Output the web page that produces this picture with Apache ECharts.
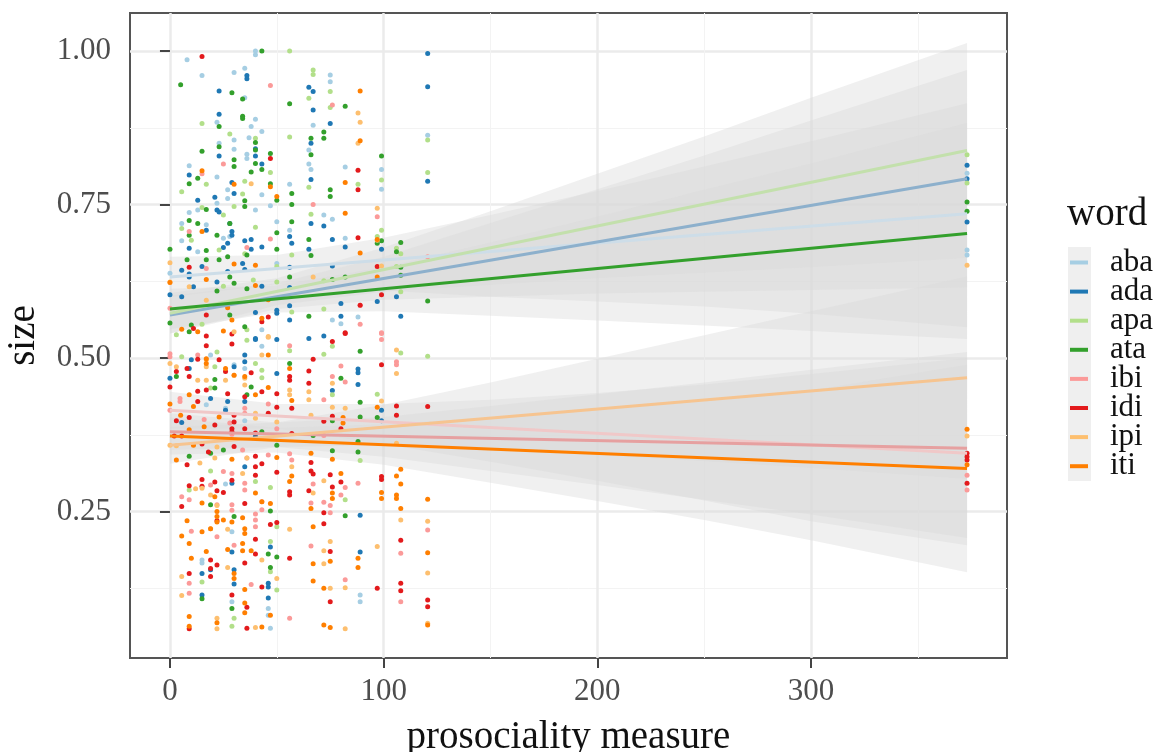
<!DOCTYPE html>
<html><head><meta charset="utf-8">
<style>html,body{margin:0;padding:0;background:#fff}#main{width:1159px;height:752px;filter:blur(0.5px)}</style>
<script src="https://cdn.jsdelivr.net/npm/echarts@6/dist/echarts.min.js"></script>
</head><body><div id="main"></div>
<script>
const words = ['aba','ada','apa','ata','ibi','idi','ipi','iti'];
const pointColors = ['#a6cee3','#1f78b4','#b2df8a','#33a02c','#fb9a99','#e31a1c','#fdbf6f','#ff7f00'];
const lineColors = ['#cddde8','#8db0cc','#c3e0ac','#33a02c','#f0c8c8','#e6a0a0','#f6c490','#ff7f00'];
const xTicks = [0,100,200,300];
const xMinor = [50,150,250,350];
const yTicks = [0.25,0.5,0.75,1];
const yMinor = [0.125,0.375,0.625,0.875];

const aba = [[8,.986],[15,.96],[40,1],[40,.994],[30,.965],[35,.972],[35,.924],[22,.884],[40,.889],[38,.877],[43,.869],[37,.859],[30,.855],[30,.84],[23,.85],[36,.832],[36,.825],[9,.813],[22,.795],[27,.774],[27,.76],[22,.752],[9,.737],[13,.741],[40,.741],[47,.748],[43,.766],[56,.783],[65,.839],[65,.816],[66,.807],[67,.879],[75,.961],[75,.95],[82,.811],[99,.807],[99,.775],[72,.733],[76,.726],[50,.722],[56,.708],[5.5,.719],[5.5,.691],[17,.717],[28,.698],[25,.695],[13,.673],[50,.654],[82,.695],[120.6,.863],[373,.801],[373,.676],[373,.668],[0,.638],[76,.562],[80,.556],[88,.567],[43,.546],[43,.519],[19,.505],[17,.424],[26,.418],[30,.489],[35,.483],[35,.398],[26,.295],[29,.217],[15,.171],[15,.166],[89,.114],[89,.103],[46,.092],[46,.081],[47,.06],[29,.103]];
const ada = [[120.6,.996],[120.6,.942],[36,.96],[36,.955],[23,.935],[23,.897],[23,.829],[65,.941],[67,.934],[67,.904],[75,.882],[66,.85],[40,.829],[40,.841],[43,.816],[9,.798],[29,.786],[30,.768],[66,.791],[21,.762],[13,.757],[22,.741],[23,.738],[28,.719],[29,.706],[29,.7],[17,.708],[9,.679],[35,.691],[38,.693],[25,.68],[27,.687],[43,.681],[38,.677],[56,.698],[57,.687],[65,.677],[72,.715],[66,.719],[76,.693],[82,.681],[99,.677],[120.6,.788],[373,.814],[373,.792],[373,.7215],[5.5,.643],[9,.632],[9,.637],[0,.603],[5.5,.6],[15,.649],[11,.616],[22,.624],[27,.641],[35,.644],[34,.654],[56,.648],[56,.615],[76,.65],[43,.617],[106,.6],[108,.568],[80,.589],[80,.568],[56,.585],[56,.562],[50,.578],[50,.573],[40,.574],[40,.532],[65,.532],[72,.536],[97,.592],[50,.53],[40,.53],[10,.497],[35,.505],[35,.494],[30,.486],[0,.467],[9,.483],[50,.475],[88,.482],[88,.476],[88,.457],[76,.447],[19,.434],[35,.429],[27,.429],[26,.415],[99,.415],[99,.398],[5.5,.395],[40,.372],[35,.323],[29,.296],[89,.244],[89,.184],[29,.184],[47,.192],[19,.155],[15,.149],[30,.155],[30,.132],[46,.133],[46,.127],[15,.114],[46,.109]];
const apa = [[56,1],[67,.969],[67,.962],[75,.934],[65,.923],[75,.908],[15,.882],[28,.865],[56,.86],[40,.858],[47,.802],[17,.783],[5.5,.771],[35,.788],[34,.767],[65,.778],[99,.79],[120.6,.802],[120.6,.855],[88,.783],[15,.745],[30,.747],[25,.733],[40,.713],[66,.734],[99,.708],[108,.67],[106,.679],[97,.698],[5.5,.711],[10,.692],[23,.676],[35,.67],[57,.668],[50,.649],[50,.624],[39,.627],[25,.617],[72,.626],[106,.649],[108,.608],[72,.58],[57,.575],[3,.538],[15,.555],[36,.546],[5.5,.502],[22,.51],[21,.486],[36,.529],[40,.491],[56,.512],[72,.506],[76,.519],[108,.508],[120.6,.503],[43,.48],[43,.468],[19,.451],[97,.441],[76,.44],[89,.333],[19,.316],[40,.299],[9,.285],[47,.289],[82,.269],[50,.225],[47,.201],[47,.152],[15,.135],[50,.122],[30,.076],[29,.063],[373,.831],[373,.785]];
const ata = [[43,1],[5,.945],[29,.932],[34,.922],[56,.914],[82,.91],[34,.894],[34,.89],[23,.877],[72,.868],[72,.858],[66,.858],[23,.844],[40,.851],[15,.837],[40,.839],[66,.831],[47,.833],[99,.829],[30,.823],[40,.817],[30,.812],[43,.807],[38,.803],[13,.793],[9,.784],[47,.784],[57,.768],[75,.774],[75,.763],[50,.757],[35,.756],[35,.747],[57,.75],[17,.742],[9,.724],[13,.719],[28,.719],[57,.722],[50,.704],[9,.7],[22,.7],[65,.693],[99,.691],[97,.687],[108,.688],[0,.677],[50,.677],[17,.675],[8,.66],[17,.66],[23,.66],[27,.665],[36,.668],[66,.667],[106,.673],[82,.632],[76,.628],[56,.632],[108,.635],[108,.648],[22,.609],[28,.632],[30,.622],[36,.613],[120.6,.593],[65,.568],[0,.557],[10,.554],[35,.551],[9,.543],[28,.57],[89,.511],[3,.47],[56,.491],[80,.467],[21,.465],[21,.451],[38,.453],[36,.44],[89,.428],[89,.404],[76,.398],[97,.403],[43,.38],[67,.374],[88,.364],[50,.358],[76,.349],[88,.347],[25,.35],[19,.345],[9,.34],[47,.251],[19,.261],[82,.243],[30,.242],[50,.176],[46,.181],[47,.159],[15,.108],[29,.092],[373,.754],[373,.739]];
const ibi = [[47,.944],[76,.912],[25,.816],[15,.8],[67,.75],[97,.73],[47,.694],[36,.68],[9,.706],[17,.646],[0,.581],[89,.586],[89,.555],[99,.541],[120.6,.665],[0,.507],[0,.502],[99,.54],[99,.53],[56,.52],[13,.505],[106,.494],[106,.489],[80,.487],[76,.47],[82,.461],[4.7,.434],[4.7,.429],[72,.432],[46,.425],[35,.418],[35,.41],[0,.415],[50,.385],[28,.394],[16,.4],[29,.376],[72,.374],[46,.342],[56,.344],[57,.334],[34,.35],[36,.337],[25,.315],[29,.312],[35,.296],[35,.285],[19,.293],[67,.295],[88,.296],[82,.289],[80,.277],[5.5,.274],[9,.269],[22,.261],[29,.261],[29,.252],[66,.264],[72,.265],[75,.26],[75,.248],[43,.266],[43,.253],[40,.246],[40,.236],[40,.225],[10,.218],[22,.209],[30,.195],[66,.194],[108,.182],[9,.133],[9,.117],[82,.139],[38,.131],[108,.103],[120.6,.22],[56,.076],[373,.309],[373,.285]];
const idi = [[15,.991],[47,.825],[88,.806],[88,.774],[88,.696],[97,.649],[99,.603],[9,.648],[89,.586],[17,.57],[43,.559],[46,.567],[82,.541],[17,.536],[11,.548],[17,.52],[29,.539],[29,.523],[82,.54],[76,.527],[13,.498],[23,.497],[67,.498],[99,.489],[0,.453],[3,.478],[8,.483],[65,.479],[26,.478],[56,.47],[56,.464],[38,.476],[9,.47],[65,.459],[17,.448],[13,.446],[50,.442],[43,.445],[27,.442],[35,.437],[13,.429],[106,.422],[106,.407],[120.6,.421],[50,.42],[57,.418],[9,.403],[46,.41],[72,.397],[76,.405],[30,.407],[30,.396],[21,.391],[3,.398],[29,.385],[29,.38],[35,.385],[80,.385],[57,.377],[40,.378],[2,.373],[5.5,.373],[15,.36],[30,.356],[18,.347],[8,.326],[40,.34],[40,.323],[40,.309],[43,.328],[50,.314],[66,.33],[66,.316],[67,.311],[75,.31],[80,.298],[99,.307],[99,.302],[9,.292],[15,.302],[15,.291],[21,.298],[22,.284],[25,.281],[29,.301],[56,.282],[56,.277],[65,.284],[76,.29],[5.5,.258],[35,.263],[72,.248],[72,.23],[22,.235],[47,.229],[50,.232],[40,.205],[108,.203],[75,.185],[40,.181],[56,.174],[35,.166],[19,.171],[19,.157],[19,.144],[22,.163],[9,.149],[43,.127],[97,.125],[108,.133],[108,.121],[75,.103],[120.6,.106],[120.6,.095],[36,.094],[9,.059],[36,.06],[29,.114],[373,.345],[373,.339],[373,.334],[373,.296]];
const ipi = [[97,.744],[88,.899],[89,.884],[88,.85],[38,.784],[0,.655],[0,.624],[17,.594],[67,.632],[99,.65],[97,.692],[9,.616],[46,.534],[30,.543],[0,.491],[3,.486],[106,.513],[106,.475],[46,.535],[13,.464],[17,.497],[17,.486],[17,.464],[26,.464],[30,.472],[35,.467],[35,.456],[43,.505],[56,.448],[56,.44],[65,.445],[65,.432],[76,.459],[76,.42],[82,.418],[99,.43],[40,.41],[40,.402],[50,.396],[66,.407],[0,.358],[3,.357],[11,.359],[22,.355],[14,.329],[21,.337],[36,.337],[57,.323],[34,.312],[106,.361],[72,.3],[15,.288],[12,.287],[19,.277],[22,.26],[67,.28],[56,.221],[120.6,.234],[19,.222],[27,.221],[108,.236],[97,.193],[75,.201],[72,.186],[43,.171],[27,.159],[72,.165],[5.5,.144],[50,.141],[120.6,.15],[75,.125],[82,.126],[5.5,.113],[22,.076],[22,.059],[40,.061],[82,.059],[120.6,.068],[373,.651],[373,.373]];
const iti = [[89,.935],[15,.805],[30,.783],[47,.779],[50,.763],[82,.786],[82,.736],[15,.706],[89,.854],[97,.693],[89,.671],[30,.653],[40,.651],[97,.632],[0,.623],[17,.628],[40,.618],[46,.595],[27,.582],[29,.562],[5.5,.547],[13,.543],[25,.544],[43,.565],[0,.425],[5,.407],[46,.505],[17,.499],[17,.491],[30,.472],[35,.47],[26,.483],[56,.483],[46,.452],[40,.44],[9,.44],[11,.421],[57,.431],[97,.42],[81,.403],[81,.394],[16,.388],[9,.383],[3,.334],[11,.358],[23,.404],[29,.335],[50,.338],[66,.345],[76,.335],[108,.319],[106,.308],[108,.295],[99,.281],[99,.271],[106,.277],[106,.271],[120.6,.27],[80,.312],[56,.299],[57,.308],[40,.28],[76,.28],[76,.271],[15,.264],[21,.274],[43,.266],[47,.263],[66,.255],[108,.255],[22,.25],[22,.242],[22,.233],[8,.235],[25,.236],[29,.233],[34,.24],[35,.222],[35,.214],[15,.217],[19,.222],[67,.225],[5.5,.21],[9,.198],[34,.198],[17,.185],[27,.188],[34,.186],[38,.186],[120.6,.183],[88,.174],[88,.159],[75,.169],[10,.174],[67,.165],[30,.149],[30,.141],[72,.125],[67,.137],[35,.123],[35,.101],[35,.085],[9,.079],[22,.069],[9,.063],[43,.062],[72,.065],[75,.061],[120.6,.065],[47,.081],[373,.384],[373,.326]];
const points = [aba,ada,apa,ata,ibi,idi,ipi,iti];

const lineX = [0,373];
const abaLine = [.632,.735], adaLine = [.57,.792], apaLine = [.573,.838], ataLine = [.58,.703];
const ibiLine = [.415,.345], idiLine = [.38,.353], ipiLine = [.358,.468], itiLine = [.373,.32];
const fitLines = [abaLine,adaLine,apaLine,ataLine,ibiLine,idiLine,ipiLine,itiLine];

const ribbonX = [0,50,100,150,200,250,300,373];
const abaHi = [.665,.668,.696,.733,.772,.812,.853,.915], abaLo = [.599,.62,.61,.6,.592,.584,.572,.55];
const adaHi = [.602,.622,.665,.72,.775,.83,.887,.969], adaLo = [.54,.58,.595,.6,.605,.608,.611,.615];
const apaHi = [.606,.63,.68,.739,.8,.861,.924,1.013], apaLo = [.54,.586,.608,.619,.63,.639,.648,.663];
const ataHi = [.613,.618,.648,.688,.73,.774,.817,.883], ataLo = [.547,.574,.576,.569,.561,.553,.544,.531];
const ibiHi = [.445,.425,.425,.432,.443,.457,.474,.5], ibiLo = [.385,.385,.36,.331,.3,.268,.234,.195];
const idiHi = [.41,.395,.404,.422,.441,.46,.481,.51], idiLo = [.35,.355,.339,.316,.293,.269,.245,.207];
const ipiHi = [.388,.395,.424,.46,.499,.537,.576,.633], ipiLo = [.328,.355,.358,.35,.342,.332,.321,.303];
const itiHi = [.403,.386,.392,.403,.418,.432,.447,.489], itiLo = [.343,.346,.326,.297,.267,.236,.203,.151];
const ribbonHi = [abaHi,adaHi,apaHi,ataHi,ibiHi,idiHi,ipiHi,itiHi];
const ribbonLo = [abaLo,adaLo,apaLo,ataLo,ibiLo,idiLo,ipiLo,itiLo];

const font = '"Liberation Serif","Times New Roman",serif';
const xRange = {min:-18.7,max:391.7}, yRange = {min:0.0114,max:1.062};
const major = {show:true,lineStyle:{color:'#ebebeb',width:2.5}};
const minor = {show:true,lineStyle:{color:'#f3f3f3',width:1}};

const series = [];
words.forEach((w,i)=>{
  series.push({type:'custom',name:w+' band',silent:true,z:2,animation:false,clip:true,
    data:[[ribbonX[0],ribbonLo[i][0]]],
    renderItem:(p,api)=>{
      const up = ribbonX.map((x,k)=>api.coord([x,ribbonHi[i][k]]));
      const dn = ribbonX.map((x,k)=>api.coord([x,ribbonLo[i][k]])).reverse();
      return {type:'polygon',shape:{points:up.concat(dn)},style:{fill:'rgba(218,218,218,0.4)'}};
    }});
});
words.forEach((w,i)=>{
  series.push({type:'scatter',name:w,data:points[i],symbolSize:5,silent:true,z:3,
    itemStyle:{color:pointColors[i],opacity:1},animation:false});
});
words.forEach((w,i)=>{
  series.push({type:'line',name:w,data:lineX.map((x,k)=>[x,fitLines[i][k]]),showSymbol:false,silent:true,z:4,
    lineStyle:{color:lineColors[i],width:3},itemStyle:{color:pointColors[i]},animation:false});
});

const chart = echarts.init(document.getElementById('main'),null,{renderer:'canvas'});
chart.setOption({
  animation:false,
  backgroundColor:'#fff',
  title:{text:'word',left:1067,top:195,textStyle:{fontFamily:font,fontSize:39,fontWeight:'normal',color:'#111'},padding:0},
  grid:{left:130,right:152,top:13,bottom:94,show:true,borderColor:'#555',borderWidth:2,backgroundColor:'#fff',containLabel:false,outerBoundsMode:'none'},
  xAxis:[
    {type:'value',...xRange,position:'bottom',name:'prosociality measure',nameLocation:'middle',nameGap:60,nameMoveOverlap:false,
     nameTextStyle:{fontFamily:font,fontSize:39,color:'#111'},
     axisLine:{show:false},axisTick:{show:true,length:10,customValues:xTicks,lineStyle:{color:'#444',width:2}},
     axisLabel:{customValues:xTicks,fontFamily:font,fontSize:31,color:'#4d4d4d',margin:18},splitLine:major},
    {type:'value',...xRange,position:'top',axisLine:{show:false},axisLabel:{show:false},
     axisTick:{show:false,customValues:xMinor},splitLine:minor}
  ],
  yAxis:[
    {type:'value',...yRange,position:'left',name:'size',nameLocation:'middle',nameGap:87,nameMoveOverlap:false,
     nameTextStyle:{fontFamily:font,fontSize:39,color:'#111'},
     axisLine:{show:false},axisTick:{show:true,length:10,customValues:yTicks,lineStyle:{color:'#444',width:2}},
     axisLabel:{customValues:yTicks,formatter:v=>v.toFixed(2),fontFamily:font,fontSize:31,color:'#4d4d4d',margin:19,padding:[3,0,0,0]},splitLine:major},
    {type:'value',...yRange,position:'right',axisLine:{show:false},axisLabel:{show:false},
     axisTick:{show:false,customValues:yMinor},splitLine:minor}
  ],
  legend:{orient:'vertical',left:1070,top:247,padding:0,itemGap:-1.9,itemWidth:18,itemHeight:4,selectedMode:false,
    data:words.map((w,i)=>({name:w,icon:'rect',itemStyle:{color:pointColors[i]}})),
    textStyle:{fontFamily:font,fontSize:31,color:'#111',lineHeight:29.1,padding:[0,0,0,17]}},
  graphic:[{type:'rect',z:-1,shape:{x:1068,y:247,width:23,height:234},style:{fill:'#efefef'},silent:true}],
  series
});
</script></body></html>
